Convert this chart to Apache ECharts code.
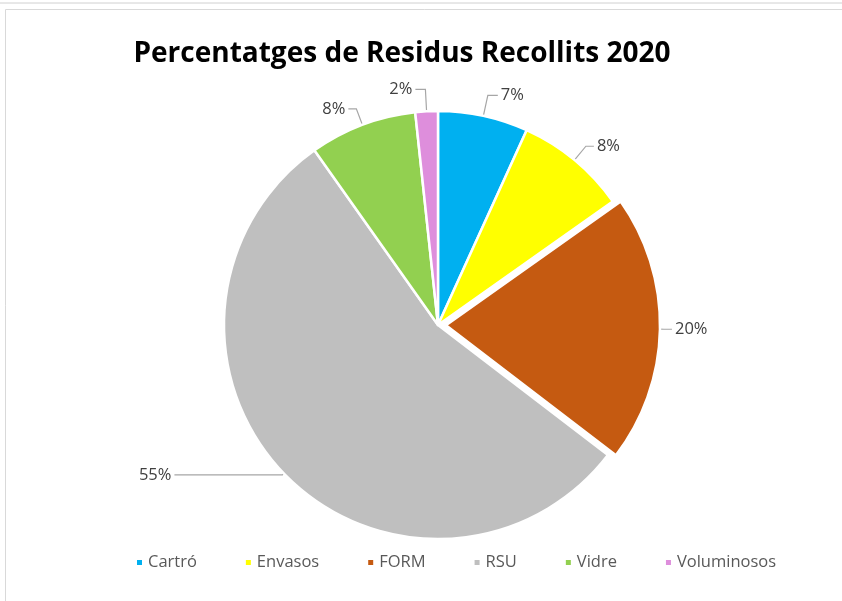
<!DOCTYPE html>
<html>
<head>
<meta charset="utf-8">
<script src="https://cdn.jsdelivr.net/npm/echarts@6/dist/echarts.min.js"></script>
<style>
html, body { margin: 0; padding: 0; background: #fff; }
#chart { width: 842px; height: 601px; }
</style>
</head>
<body>
<div id="chart"></div>
<script>
// categories and shares (%)
const categories = ['Cartró', 'Envasos', 'FORM', 'RSU', 'Vidre', 'Voluminosos']
const shares = [6.8, 8.4, 20.2, 54.8, 8.1, 1.7]
const colors = ['#00B0F0', '#FFFF00', '#C55A11', '#BFBFBF', '#92D050', '#DE8EDC']
// FORM slice is pulled out a bit
const exploded = ['FORM']
// leader line lengths [radial, horizontal] per slice
const leader = [[21, 10], [18, 8], [4, 8], [2, 108], [17, 8], [22, 10]]

const myChart = echarts.init(document.getElementById('chart'))

const pieData = categories.map((name, i) => ({
    name: name,
    value: shares[i],
    selected: exploded.indexOf(name) >= 0,
    itemStyle: { color: colors[i] },
    labelLine: { length: leader[i][0], length2: leader[i][1] }
}))

const option = {
    animation: false,
    title: {
        text: 'Percentatges de Residus Recollits 2020',
        left: 397,
        textAlign: 'center',
        top: 35,
        textStyle: {
            fontFamily: 'Open Sans',
            fontWeight: 'bold',
            fontSize: 28,
            color: '#000'
        }
    },
    legend: {
        data: categories,
        left: 130,
        top: 549,
        icon: 'rect',
        itemWidth: 7,
        itemHeight: 7,
        itemGap: 47,
        textStyle: {
            fontFamily: 'Open Sans',
            fontSize: 16.5,
            color: '#595959'
        }
    },
    graphic: [
        { type: 'rect', shape: { x: -10, y: -20, width: 900, height: 23 }, style: { fill: 'none', stroke: '#d0d0d0', lineWidth: 1 } },
        { type: 'rect', shape: { x: 5.5, y: 9.5, width: 900, height: 620 }, style: { fill: 'none', stroke: '#d9d9d9', lineWidth: 1 } }
    ],
    series: [{
        type: 'pie',
        center: [438, 325],
        radius: 214,
        startAngle: 90,
        selectedMode: 'multiple',
        selectedOffset: 8,
        avoidLabelOverlap: false,
        data: pieData,
        itemStyle: {
            borderColor: '#fff',
            borderWidth: 2.5
        },
        label: {
            formatter: p => Math.round(p.value) + '%',
            fontFamily: 'Open Sans',
            fontSize: 16.5,
            color: '#404040',
            distanceToLabelLine: 3
        },
        labelLine: {
            lineStyle: { color: '#a6a6a6', width: 1.2 }
        },
        emphasis: { disabled: true }
    }]
}

myChart.setOption(option)
</script>
</body>
</html>
